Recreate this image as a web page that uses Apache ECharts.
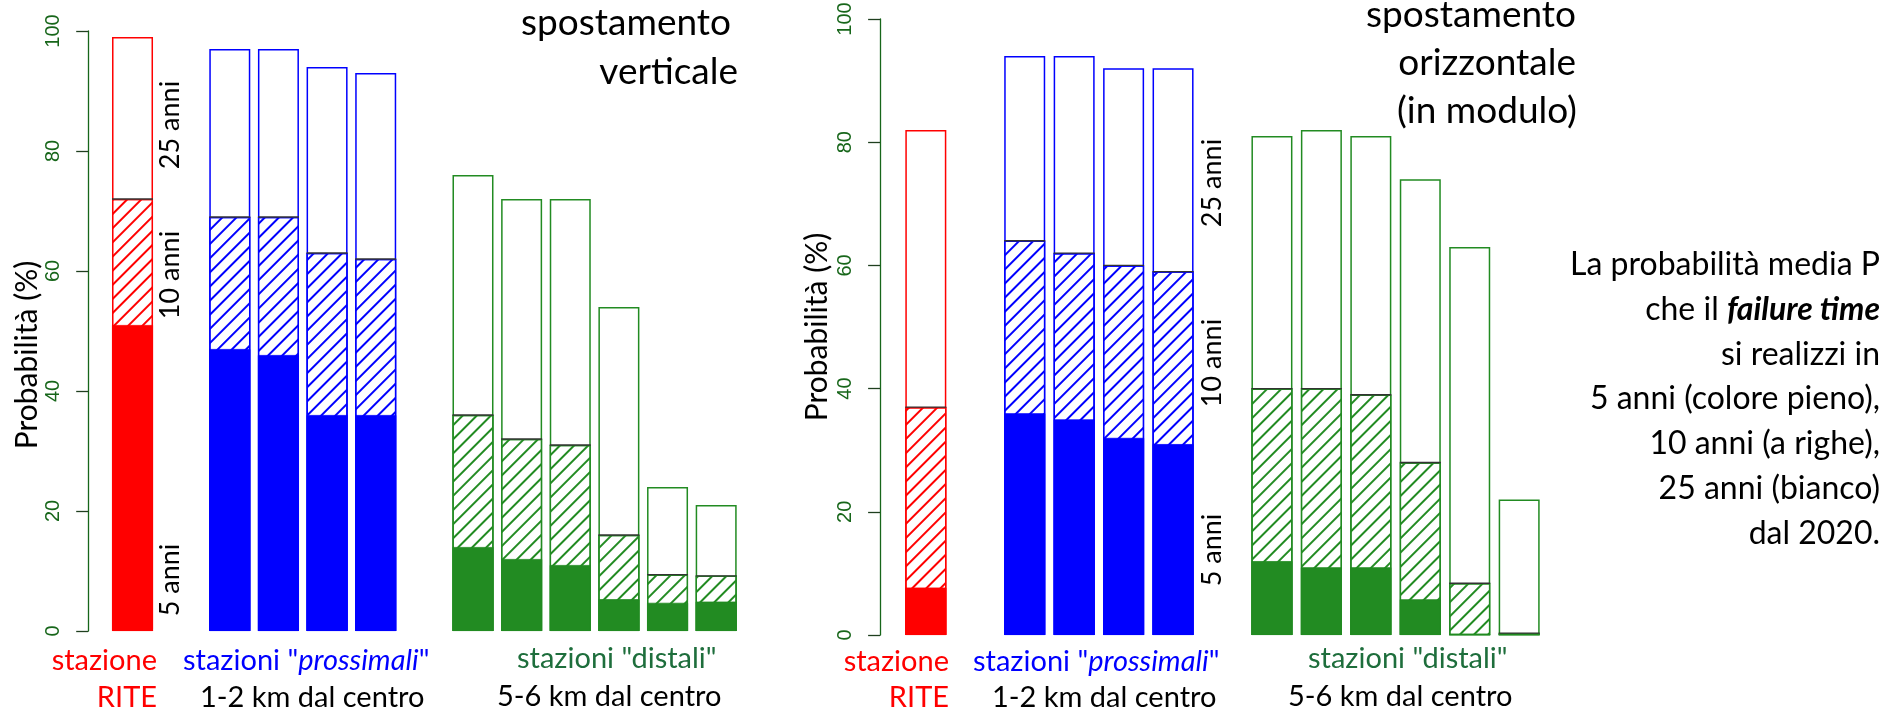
<!DOCTYPE html>
<html>
<head>
<meta charset="utf-8">
<script src="https://cdn.jsdelivr.net/npm/echarts@6/dist/echarts.min.js"></script>
<style>
  html, body { margin: 0; padding: 0; background: #ffffff; }
  #chart { width: 1887px; height: 713px; }
</style>
</head>
<body>
<div id="chart"></div>
<script>
// Stations, in drawing order: RITE, 4 "prossimali", 6 "distali"
const stationGroup = ['rite', 'pross', 'pross', 'pross', 'pross',
                      'dist', 'dist', 'dist', 'dist', 'dist', 'dist'];
// Slot on the category axis of each station (slots 1 and 6 stay empty)
const stationSlot = [0, 2, 3, 4, 5, 7, 8, 9, 10, 11, 12];
const slotCount = 13;

// Probability (%) of the failure time within 5, 10 and 25 years — vertical displacement
const vert5  = [51, 47, 46, 36, 36, 14, 12, 11, 5.3, 4.7, 4.9];
const vert10 = [72, 69, 69, 63, 62, 36, 32, 31, 16, 9.4, 9.2];
const vert25 = [99, 97, 97, 94, 93, 76, 72, 72, 54, 24, 21];

// Same, horizontal displacement (modulus)
const oriz5  = [7.7, 36, 35, 32, 31, 12, 11, 11, 5.8, 0, 0];
const oriz10 = [37, 64, 62, 60, 59, 40, 40, 39, 28, 8.4, 0.3];
const oriz25 = [82, 94, 94, 92, 92, 81, 82, 81, 74, 63, 22];

const yTicks = [0, 20, 40, 60, 80, 100];

const groupColor = { rite: '#ff0000', pross: '#0000ff', dist: '#228b22' };
const axisGreen = '#17661a';
const FONT = 'Lato, "Open Sans", sans-serif';
const BAR_W = 41;

function toSlots(values, makeItem) {
  const out = new Array(slotCount).fill('-');
  stationSlot.forEach((slot, i) => { out[slot] = makeItem(values[i], groupColor[stationGroup[i]]); });
  return out;
}

function seriesFor(idx, v5, v10, v25) {
  const common = { type: 'bar', xAxisIndex: idx, yAxisIndex: idx, barWidth: BAR_W, barGap: '-100%' };
  return [
    Object.assign({}, common, {
      name: '25 anni',
      data: toSlots(v25, (v, c) => ({ value: v, itemStyle: { color: '#ffffff', borderColor: c, borderWidth: 1.5 } }))
    }),
    Object.assign({}, common, {
      name: '10 anni',
      data: toSlots(v10, (v, c) => ({
        value: v,
        itemStyle: {
          color: '#ffffff', borderColor: c, borderWidth: 1.3,
          decal: { symbol: 'rect', symbolSize: 1, color: c, dashArrayX: [1, 0], dashArrayY: [1.4, 7.6], rotation: -Math.PI / 4 }
        }
      }))
    }),
    Object.assign({}, common, {
      name: '5 anni',
      data: toSlots(v5, (v, c) => ({ value: v, itemStyle: { color: c, borderColor: c, borderWidth: 0.8 } }))
    }),
    {
      // thin dark edge on top of each hatched segment
      type: 'scatter', xAxisIndex: idx, yAxisIndex: idx, z: 5,
      symbol: 'rect', symbolSize: [BAR_W, 1.3],
      itemStyle: { color: '#333333', opacity: 1 },
      data: toSlots(v10, (v) => v)
    }
  ];
}

function yAxisFor(idx, offset) {
  return {
    type: 'value', gridIndex: idx, min: 0, max: 100, interval: 20, offset: offset,
    splitLine: { show: false },
    axisLine: { show: true, lineStyle: { color: axisGreen, width: 1.3 } },
    axisTick: { show: true, length: 12, lineStyle: { color: '#1f3f1f', width: 1.3 } },
    axisLabel: {
      rotate: 90, margin: 25, color: axisGreen,
      fontFamily: '"Liberation Sans", Arial, sans-serif', fontSize: 20,
      formatter: (v) => yTicks.includes(v) ? String(v) : ''
    }
  };
}

function xAxisFor(idx) {
  return {
    type: 'category', gridIndex: idx,
    data: Array.from({ length: slotCount }, (_, i) => 'slot' + i),
    axisLine: { show: false }, axisTick: { show: false }, axisLabel: { show: false },
    splitLine: { show: false }
  };
}

function txt(x, y, text, opts) {
  const o = opts || {};
  return {
    type: 'text', x: x, y: y, rotation: o.rotation || 0, silent: true,
    style: Object.assign({
      text: text, fill: o.color || '#000000',
      font: (o.style || 'normal') + ' ' + (o.weight || 'normal') + ' ' + (o.size || 29) + 'px ' + FONT,
      align: o.align || 'left', verticalAlign: 'middle'
    }, o.rich ? { rich: o.rich } : {})
  };
}

const richItalic = (size, color) => ({
  n: { fill: color, font: 'normal normal ' + size + 'px ' + FONT },
  i: { fill: color, font: 'italic normal ' + size + 'px ' + FONT },
  bi: { fill: color, font: 'italic bold ' + size + 'px ' + FONT }
});

const ROT = Math.PI / 2;
const graphics = [
  // left panel
  txt(27, 355, 'Probabilità (%)', { rotation: ROT, align: 'center', size: 30 }),
  txt(170, 125, '25 anni', { rotation: ROT, align: 'center', size: 27 }),
  txt(170, 275, '10 anni', { rotation: ROT, align: 'center', size: 27 }),
  txt(170, 580, '5 anni', { rotation: ROT, align: 'center', size: 27 }),
  txt(731, 23, 'spostamento', { align: 'right', size: 37 }),
  txt(738, 72, 'verticale', { align: 'right', size: 37 }),
  txt(157, 661, 'stazione', { align: 'right', color: '#ff0000' }),
  txt(157, 698, 'RITE', { align: 'right', color: '#ff0000' }),
  txt(183, 661, '{n|stazioni "}{i|prossimali}{n|"}', { rich: richItalic(29, '#0000ff') }),
  txt(200, 698, '1-2 km dal centro'),
  txt(517, 659, 'stazioni "distali"', { color: '#1e6e3c' }),
  txt(497, 697, '5-6 km dal centro'),
  // right panel
  txt(817, 327, 'Probabilità (%)', { rotation: ROT, align: 'center', size: 30 }),
  txt(1212, 183, '25 anni', { rotation: ROT, align: 'center', size: 27 }),
  txt(1212, 363, '10 anni', { rotation: ROT, align: 'center', size: 27 }),
  txt(1212, 550, '5 anni', { rotation: ROT, align: 'center', size: 27 }),
  txt(1576, 15, 'spostamento', { align: 'right', size: 37 }),
  txt(1576, 63, 'orizzontale', { align: 'right', size: 37 }),
  txt(1577, 111, '(in modulo)', { align: 'right', size: 37 }),
  txt(949, 662, 'stazione', { align: 'right', color: '#ff0000' }),
  txt(949, 698, 'RITE', { align: 'right', color: '#ff0000' }),
  txt(973, 662, '{n|stazioni "}{i|prossimali}{n|"}', { rich: richItalic(29, '#0000ff') }),
  txt(992, 698, '1-2 km dal centro'),
  txt(1308, 659, 'stazioni "distali"', { color: '#1e6e3c' }),
  txt(1288, 697, '5-6 km dal centro'),
  // side note
  txt(1880, 265, 'La probabilità media P', { align: 'right', size: 32 }),
  txt(1880, 309.7, '{n|che il }{bi|failure time}', { align: 'right', rich: richItalic(32, '#000000') }),
  txt(1880, 354.4, 'si realizzi in', { align: 'right', size: 32 }),
  txt(1880, 399.1, '5 anni (colore pieno),', { align: 'right', size: 32 }),
  txt(1880, 443.8, '10 anni (a righe),', { align: 'right', size: 32 }),
  txt(1880, 488.5, '25 anni (bianco)', { align: 'right', size: 32 }),
  txt(1880, 533.2, 'dal 2020.', { align: 'right', size: 32 })
];

const chart = echarts.init(document.getElementById('chart'), null, { renderer: 'canvas' });
chart.setOption({
  animation: false,
  backgroundColor: '#ffffff',
  grid: [
    { left: 108.2, top: 31, width: 632.3, height: 600, containLabel: false, outerBoundsMode: 'none' },
    { left: 901.1, top: 19, width: 642.8, height: 616, containLabel: false, outerBoundsMode: 'none' }
  ],
  xAxis: [xAxisFor(0), xAxisFor(1)],
  yAxis: [yAxisFor(0, 20), yAxisFor(1, 21)],
  series: [].concat(seriesFor(0, vert5, vert10, vert25), seriesFor(1, oriz5, oriz10, oriz25)),
  graphic: graphics
});
</script>
</body>
</html>
